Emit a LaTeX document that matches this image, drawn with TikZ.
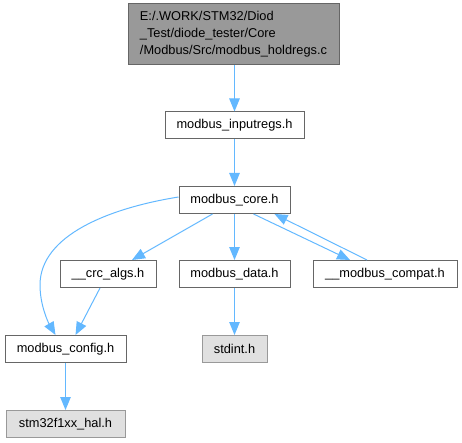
\documentclass[tikz,border=0pt]{standalone}
\usepackage{fontspec}
\setmainfont{Liberation Sans}
\usetikzlibrary{arrows.meta}
\definecolor{edgeblue}{HTML}{63B8FF}
\definecolor{rootfill}{HTML}{999999}
\definecolor{bordergray}{HTML}{666666}
\definecolor{extfill}{HTML}{E0E0E0}
\definecolor{extborder}{HTML}{999999}
\tikzset{
  filebox/.style={draw=bordergray, fill=white, line width=1pt, rectangle, inner sep=0pt, minimum height=27pt,
    font=\fontsize{12.8}{15}\selectfont},
  extbox/.style={filebox, draw=extborder, fill=extfill},
  rootbox/.style={filebox, fill=rootfill, minimum height=61pt, minimum width=211pt, align=left, font=\fontsize{12.8}{17}\selectfont},
  dep/.style={draw=edgeblue, line width=1pt, -{Triangle[length=13pt,width=10.5pt]}},
}
\begin{document}
\begin{tikzpicture}[x=1pt,y=-1pt]
\useasboundingbox (0,0) rectangle (462,443);
\node[rootbox] (root) at (233.5,34.5) {E:/.WORK/STM32/Diod\\\_Test/diode\_tester/Core\\/Modbus/Src/modbus\_holdregs.c};
\node[filebox, minimum width=139pt] (inreg) at (234.5,125.5) {modbus\_inputregs.h};
\node[filebox, minimum width=111pt] (core) at (234.5,200) {modbus\_core.h};
\node[filebox, minimum width=96pt] (crc) at (108,274) {\_\_crc\_algs.h};
\node[filebox, minimum width=111pt] (data) at (234.5,274) {modbus\_data.h};
\node[filebox, minimum width=144pt] (compat) at (385,274) {\_\_modbus\_compat.h};
\node[filebox, minimum width=121pt] (config) at (65.5,349) {modbus\_config.h};
\node[extbox, minimum width=65pt] (stdint) at (234.5,349) {stdint.h};
\node[extbox, minimum width=119pt] (hal) at (65.5,424) {stm32f1xx\_hal.h};

\draw[dep] (root.south -| inreg) -- (inreg.north);
\draw[dep] (inreg) -- (core);
\draw[dep] ([xshift=-22pt]core.south) -- ([xshift=24pt]crc.north);
\draw[dep] (core) -- (data);
\draw[dep] ([xshift=19pt]core.south) -- ([xshift=-35pt]compat.north);
\draw[dep] ([xshift=-18pt]compat.north) -- ([xshift=40pt]core.south);
\draw[dep] ([yshift=3pt]core.west) .. controls (110,208) and (40,235) .. (40,285) .. controls (40,305) and (48,322) .. ([xshift=-10pt]config.north);
\draw[dep] ([xshift=-8pt]crc.south) -- ([xshift=10pt]config.north);
\draw[dep] (config) -- (hal);
\draw[dep] (data) -- (stdint);
\end{tikzpicture}
\end{document}
